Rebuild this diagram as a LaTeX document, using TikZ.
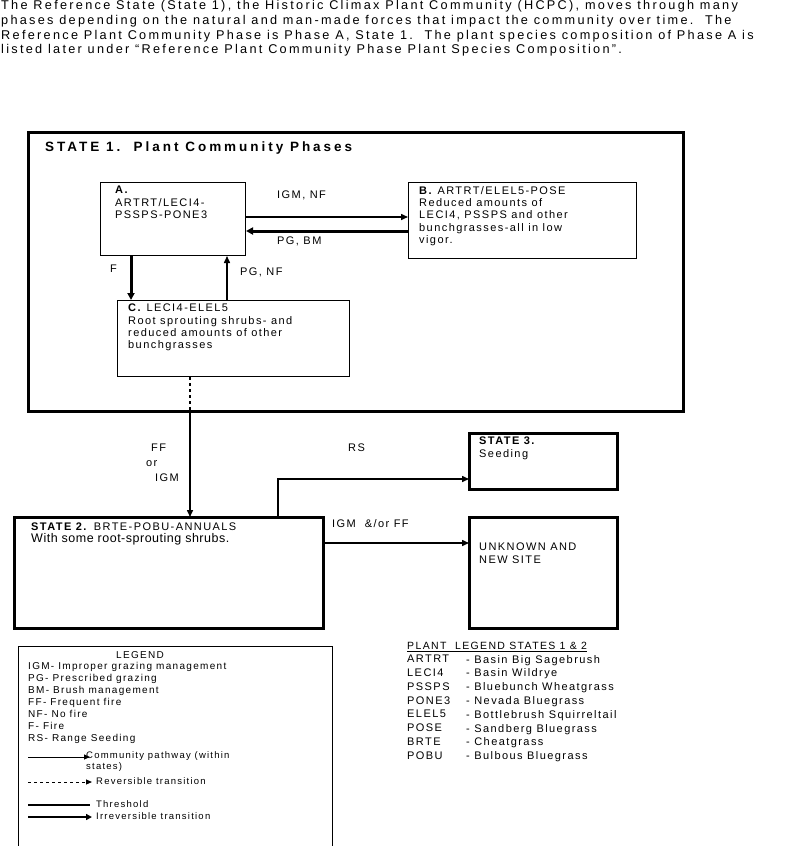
\documentclass[tikz,border=0pt]{standalone}
\usepackage{fontspec}
\setmainfont{Liberation Sans}[LetterSpace=13]
\newfontfamily\hdrfont{Liberation Sans}[LetterSpace=18]
\newfontfamily\ttlfont{Liberation Sans}[LetterSpace=22]
\newfontfamily\plainfont{Liberation Sans}[LetterSpace=4]
\usetikzlibrary{arrows.meta}
\begin{document}
\begin{tikzpicture}[x=1pt,y=-1pt,
  txt/.style={inner sep=0pt,anchor=north west,align=left,font=\fontsize{11}{12.3}\selectfont},
  boxthin/.style={draw,line width=1pt},
  boxthick/.style={draw,line width=3pt},
  arr/.style={line width=1.5pt,-{Triangle[length=7pt,width=6pt]}},
  arrthick/.style={line width=3pt,-{Triangle[length=7pt,width=7pt]}}]
\useasboundingbox (0,0) rectangle (800,846);
\node[txt,font=\hdrfont\fontsize{12.7}{14.8}\selectfont] (hdr) at (1,0) {The Reference State (State 1), the Historic Climax Plant Community (HCPC), moves through many\\phases depending on the natural and man-made forces that impact the community over time.\ \ The\\Reference Plant Community Phase is Phase A, State 1.\ \ The plant species composition of Phase A is\\listed later under “Reference Plant Community Phase Plant Species Composition”.};
% state 1
\draw[boxthick] (28,132) rectangle (683,411);
\node[txt,font=\ttlfont\bfseries\fontsize{13.5}{15}\selectfont] (s1t) at (45,142) {STATE 1.\ \ Plant Community Phases};
\node[boxthin,minimum width=145pt,minimum height=73pt,anchor=north west] (A) at (100,182) {};
\node[txt] (At) at (115,186) {\textbf{A.}\\ARTRT/LECI4-\\PSSPS-PONE3};
\node[boxthin,minimum width=228pt,minimum height=76pt,anchor=north west] (B) at (408,182) {};
\node[txt] (Bt) at (419,186) {\textbf{B.} ARTRT/ELEL5-POSE\\Reduced amounts of\\LECI4, PSSPS and other\\bunchgrasses-all in low\\vigor.};
\node[boxthin,minimum width=232pt,minimum height=76pt,anchor=north west] (C) at (117,300) {};
\node[txt] (Ct) at (128,304) {\textbf{C.} LECI4-ELEL5\\Root sprouting shrubs- and\\reduced amounts of other\\bunchgrasses};
\draw[arr] (A.east|-0,217) -- (B.west|-0,217);
\draw[arrthick] (B.west|-0,231) -- (A.east|-0,231);
\node[txt] (l1) at (277,191) {IGM, NF};
\node[txt] (l2) at (277,237) {PG, BM};
\draw[arrthick] (131,0|-A.south) -- (131,0|-C.north);
\draw[arr] (227,0|-C.north) -- (227,0|-A.south);
\node[txt] (l3) at (110,265) {F};
\node[txt] (l4) at (240,268) {PG, NF};
% state 2
\draw[boxthick] (14,517) rectangle (323,628);
\node[minimum width=309pt,minimum height=111pt,anchor=north west,inner sep=0pt] (S2) at (14,517) {};
\node[txt] (S2t) at (31,523) {\textbf{STATE 2.} BRTE-POBU-ANNUALS\\[-1pt]{\plainfont\fontsize{12.5}{13}\selectfont With some root-sprouting shrubs.}};
\coordinate (d1) at (190,411);
\draw[line width=1.2pt,dashed] (190,0|-C.south) -- (d1);
\draw[arr] (d1) -- (190,0|-S2.north);
\node[txt] (l5) at (151,444) {FF};
\node[txt] (l6) at (146,460) {or};
\node[txt] (l7) at (155,474) {IGM};
\draw[boxthick] (469,433) rectangle (617,489);
\node[minimum width=148pt,minimum height=56pt,anchor=north west,inner sep=0pt] (S3) at (469,433) {};
\node[txt] (S3t) at (479,437) {\textbf{STATE 3.}\\Seeding};
\coordinate (rs) at (278,479);
\draw[arr] (278,0|-S2.north) -- (rs) -- (S3.west|-rs);
\node[txt] (l8) at (348,444) {RS};
\draw[boxthick] (469,517) rectangle (617,628);
\node[minimum width=148pt,minimum height=111pt,anchor=north west,inner sep=0pt] (U) at (469,517) {};
\node[txt] (Ut) at (479,543) {UNKNOWN AND\\NEW SITE};
\draw[arr] (S2.east|-0,543) -- (U.west|-0,543);
\node[txt] (l9) at (332,519) {IGM\ \ \&/or FF};
% legend
\draw[line width=0.8pt] (18,847) -- (18,646) -- (332,646) -- (332,847);
\node[txt,font=\fontsize{10}{10}\selectfont] (lg) at (116,651) {LEGEND};
\node[txt,font=\fontsize{10}{12}\selectfont] (lgt) at (28,662) {IGM- Improper grazing management\\PG- Prescribed grazing\\BM- Brush management\\FF- Frequent fire\\NF- No fire\\F- Fire\\RS- Range Seeding};
\coordinate (la1) at (28,757);\coordinate (la2) at (90,757);
\draw[line width=1pt,-{Triangle[length=6pt,width=5pt]}] (la1) -- (la2);
\node[txt,font=\fontsize{9.5}{11}\selectfont] (lgc) at (86,751) {Community pathway (within\\states)};
\coordinate (lb1) at (28,782);\coordinate (lb2) at (92,782);
\draw[line width=1pt,dashed,-{Triangle[length=6pt,width=5pt]}] (lb1) -- (lb2);
\node[txt,font=\fontsize{9.5}{11}\selectfont] (lgr) at (96,777) {Reversible transition};
\coordinate (lc1) at (28,805);\coordinate (lc2) at (90,805);
\draw[line width=2pt] (lc1) -- (lc2);
\node[txt,font=\fontsize{9.5}{11}\selectfont] (lgth) at (96,800) {Threshold};
\coordinate (ld1) at (28,817);\coordinate (ld2) at (92,817);
\draw[line width=2pt,-{Triangle[length=6pt,width=6pt]}] (ld1) -- (ld2);
\node[txt,font=\fontsize{9.5}{11}\selectfont] (lgi) at (96,812) {Irreversible transition};
% plant legend
\node[txt,font=\fontsize{10.5}{12}\selectfont] (pl) at (407,642) {\underline{PLANT\ \ LEGEND STATES 1 \& 2}};
\node[txt,font=\fontsize{11}{13.8}\selectfont] (pla) at (407,655) {ARTRT\\LECI4\\PSSPS\\PONE3\\ELEL5\\POSE\\BRTE\\POBU};
\node[txt,font=\fontsize{11}{13.8}\selectfont] (plb) at (466,655) {- Basin Big Sagebrush\\- Basin Wildrye\\- Bluebunch Wheatgrass\\- Nevada Bluegrass\\- Bottlebrush Squirreltail\\- Sandberg Bluegrass\\- Cheatgrass\\- Bulbous Bluegrass};
\end{tikzpicture}
\end{document}
